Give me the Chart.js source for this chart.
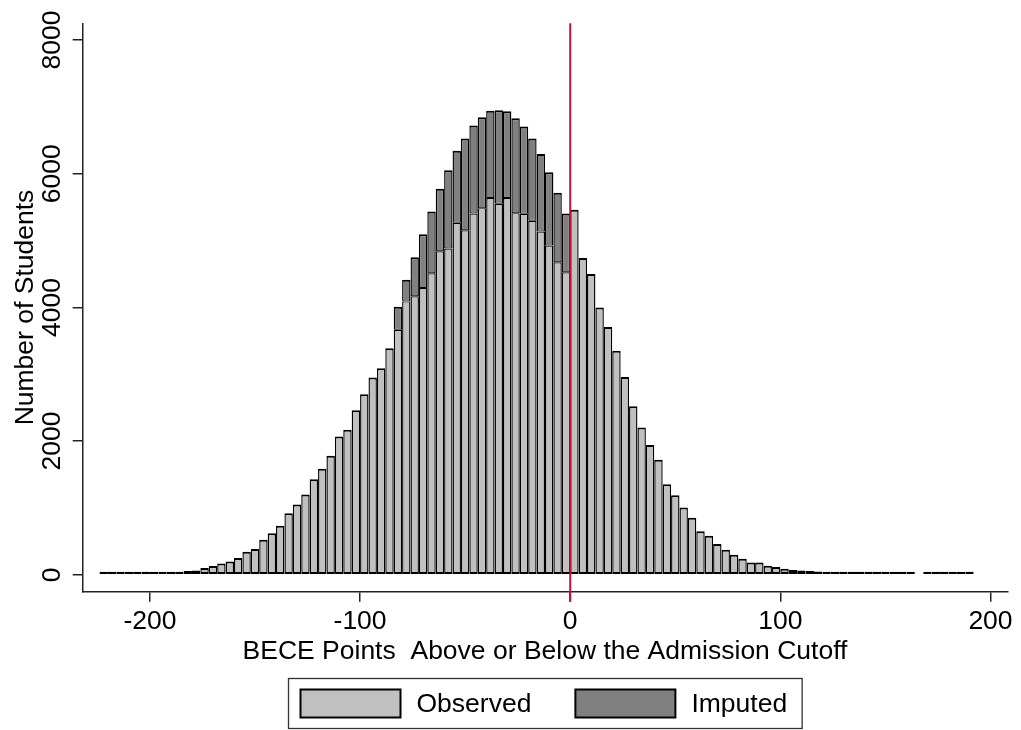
<!DOCTYPE html>
<html>
<head>
<meta charset="utf-8">
<script src="https://cdn.jsdelivr.net/npm/chart.js@4.4.1/dist/chart.umd.min.js"></script>
<style>
  html, body { margin: 0; padding: 0; background: #ffffff; }
  #wrap { width: 1021px; height: 730px; }
</style>
</head>
<body>
<div id="wrap"><canvas id="chart" width="1021" height="730"></canvas></div>
<script>
// Histogram of BECE score distance from the admission cutoff, 4-point bins.
const binStart = -224;
const binWidth = 4;

// Observed students per bin, from -224 up to 192 (bin 164-168 is empty).
const observed = [
  10, 15, 15, 20, 20, 25, 25, 30, 40, 45,
  55, 65, 100, 130, 170, 200, 250, 345, 385, 525,
  620, 735, 920, 1050, 1200, 1430, 1585, 1780, 2070, 2170,
  2460, 2700, 2950, 3090, 3390, 3665, 4090, 4165, 4290, 4510,
  4840, 4880, 5265, 5155, 5405, 5485, 5635, 5550, 5635, 5410,
  5400, 5295, 5135, 4925, 4675, 4525, 5460, 4740, 4500, 4000,
  3705, 3350, 2960, 2520, 2205, 1940, 1720, 1355, 1190, 1005,
  855, 650, 585, 460, 375, 300, 240, 185, 185, 135,
  115, 90, 70, 65, 55, 50, 45, 40, 40, 35,
  30, 30, 25, 25, 20, 15, 12, null, 15, 12,
  12, 10, 10, 10
];

// Imputed students, stacked on top of the observed counts (bins -84 .. -4).
const imputedStart = -84;
const imputed = [
  345, 325, 585, 805, 925, 935, 1170, 1080, 1370, 1315,
  1360, 1305, 1400, 1300, 1420, 1305, 1230, 1160, 1095, 1040,
  880
];

const seriesLabels = ['Observed', 'Imputed'];
const xTicks = [-200, -100, 0, 100, 200];
const yTicks = [0, 2000, 4000, 6000, 8000];
const cutoff = 0;

const FONT_FAMILY = '"Liberation Sans", Arial, Helvetica, sans-serif';
const FONT_SIZE = 26.5;
const AXIS_COLOR = '#222222';

const observedPoints = observed.map((v, i) => ({ x: binStart + binWidth * (i + 0.5), y: v }));
const imputedPoints = imputed.map((v, i) => ({ x: imputedStart + binWidth * (i + 0.5), y: v }));
const imputedCenters = new Set(imputedPoints.map(p => p.x));

// Red reference line at the admission cutoff.
const cutoffLine = {
  id: 'cutoffLine',
  afterDatasetsDraw(chart) {
    const { ctx, chartArea } = chart;
    const x = chart.scales.x.getPixelForValue(cutoff);
    ctx.save();
    ctx.strokeStyle = '#c8103c';
    ctx.lineWidth = 2;
    ctx.beginPath();
    ctx.moveTo(x, chartArea.top);
    ctx.lineTo(x, chartArea.bottom + 10);
    ctx.stroke();
    ctx.restore();
  }
};

// Boxed legend below the axis title.
const boxedLegend = {
  id: 'boxedLegend',
  afterDraw(chart) {
    const { ctx, chartArea } = chart;
    const sw = 100, sh = 28, textGap = 16, itemGap = 44, padL = 12, padR = 15;
    ctx.save();
    ctx.font = FONT_SIZE + 'px ' + FONT_FAMILY;
    const items = chart.data.datasets.map(ds => ({ label: ds.label, fill: ds.backgroundColor }));
    const widths = items.map(it => ctx.measureText(it.label).width);
    let inner = 0;
    items.forEach((it, i) => { inner += sw + textGap + widths[i]; });
    inner += itemGap * (items.length - 1);
    const frameW = padL + inner + padR;
    const frameH = 50;
    const cx = (chartArea.left + chartArea.right) / 2;
    const left = Math.round(cx - frameW / 2) + 0.5;
    const top = chart.height - frameH - 1.5;
    ctx.strokeStyle = '#333333';
    ctx.lineWidth = 1.3;
    ctx.strokeRect(left, top, frameW, frameH);
    let x = left + padL;
    const cy = top + frameH / 2;
    items.forEach((it, i) => {
      ctx.fillStyle = it.fill;
      ctx.fillRect(x, cy - sh / 2, sw, sh);
      ctx.strokeStyle = '#000000';
      ctx.lineWidth = 2;
      ctx.strokeRect(x, cy - sh / 2, sw, sh);
      ctx.fillStyle = '#000000';
      ctx.textAlign = 'left';
      ctx.textBaseline = 'middle';
      ctx.fillText(it.label, x + sw + textGap, cy + 1);
      x += sw + textGap + widths[i] + itemGap;
    });
    ctx.restore();
  }
};

const font = { family: FONT_FAMILY, size: FONT_SIZE };

new Chart(document.getElementById('chart'), {
  type: 'bar',
  data: {
    datasets: [
      {
        label: seriesLabels[0],
        data: observedPoints,
        backgroundColor: '#c0c0c0',
        borderColor: '#000000',
        borderWidth: ctx => ({
          top: ctx.raw && imputedCenters.has(ctx.raw.x) ? 1.2 : 2,
          bottom: 2, left: 1.4, right: 1.4
        }),
        borderSkipped: false,
        minBarLength: 3,
        inflateAmount: 0,
        barPercentage: 1,
        categoryPercentage: 1
      },
      {
        label: seriesLabels[1],
        data: imputedPoints,
        backgroundColor: '#808080',
        borderColor: '#000000',
        borderWidth: { top: 2, bottom: 1, left: 1.4, right: 1.4 },
        borderSkipped: false,
        inflateAmount: 0,
        barPercentage: 1,
        categoryPercentage: 1
      }
    ]
  },
  options: {
    responsive: false,
    animation: false,
    layout: { padding: { left: 0, right: 13.7, top: 23.3, bottom: 50 } },
    plugins: {
      legend: { display: false },
      tooltip: { enabled: false }
    },
    scales: {
      x: {
        type: 'linear',
        stacked: true,
        offset: false,
        min: -232,
        max: 208,
        afterBuildTicks: s => { s.ticks = xTicks.map(v => ({ value: v })); },
        afterFit: s => { s.height = 88.3; s.paddingLeft = 0; s.paddingRight = 0; },
        grid: { display: true, offset: false, drawOnChartArea: false, drawTicks: true, tickLength: 10, color: AXIS_COLOR, lineWidth: 1.5 },
        border: { display: true, color: AXIS_COLOR, width: 1.5 },
        ticks: { font, color: '#000000', padding: 4, maxRotation: 0, autoSkip: false, callback: v => String(v) },
        title: { display: true, text: 'BECE Points  Above or Below the Admission Cutoff', font, color: '#000000', padding: { top: 0, bottom: 12 } }
      },
      y: {
        stacked: true,
        min: -253,
        max: 8250,
        afterBuildTicks: s => { s.ticks = yTicks.map(v => ({ value: v })); },
        afterFit: s => { s.width = 82.7; s.paddingTop = 0; s.paddingBottom = 0; },
        grid: { display: true, drawOnChartArea: false, drawTicks: true, tickLength: 10, color: AXIS_COLOR, lineWidth: 1.5 },
        border: { display: true, color: AXIS_COLOR, width: 1.5 },
        ticks: { font, color: '#000000', padding: -9, minRotation: 90, maxRotation: 90, crossAlign: 'center', autoSkip: false, callback: v => String(v) },
        title: { display: true, text: 'Number of Students', font, color: '#000000', padding: { top: 10, bottom: 0 } }
      }
    }
  },
  plugins: [cutoffLine, boxedLegend]
});
</script>
</body>
</html>
